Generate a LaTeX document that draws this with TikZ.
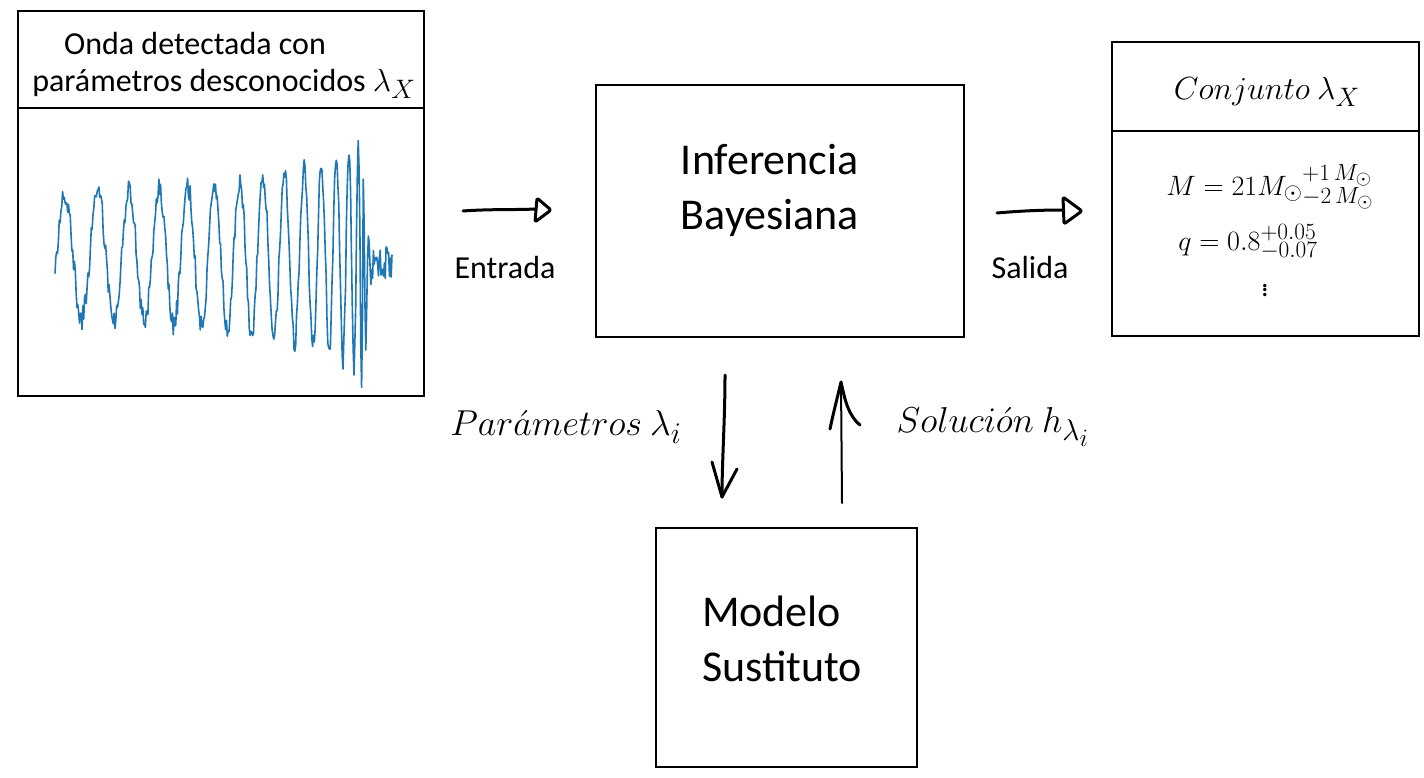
\documentclass[tikz,border=0pt]{standalone}
\usepackage{graphicx}
\usepackage{fontspec}
\setmainfont{Carlito}
\usetikzlibrary{arrows.meta}
\definecolor{wavecol}{HTML}{1F77B4}
\newcommand{\mscale}[2]{\scalebox{#1}{\fontsize{24.88}{30}\selectfont$#2$}}
\begin{document}
\begin{tikzpicture}[x=1pt,y=-1pt,
  box/.style={draw=black, line width=2pt, inner sep=0pt},
  lbl/.style={font=\fontsize{32}{38}\selectfont, inner sep=0pt},
  big/.style={font=\fontsize{44}{55}\selectfont, align=left, inner sep=0pt},
  mnode/.style={inner sep=0pt},
  hand/.style={line width=3pt, line cap=round, line join=round},
  wave/.style={draw=wavecol, line width=1.6pt, line join=round}]
\useasboundingbox (0,0) rectangle (1424,778);

% left box
\node[box, minimum width=406pt, minimum height=97pt] (wavehead) at (221,59.5) {};
\node[box, minimum width=406pt, minimum height=288pt] (wavebody) at (221,252) {};
\node[lbl] (t1) at (195,44) {Onda detectada con};
\node[lbl] (t2) at (224,84) {parámetros desconocidos \mscale{1.286}{\lambda_X}};

% waveform
\pgfmathsetseed{7}
\draw[wave] plot[domain=55:392, samples=400]
  (\x, {256 + 9*(\x>364)
    - 63*(300/(max(364-\x,0)+20))^0.25*exp(-max(\x-364,0)/3)
      *sin(deg(2.53*max(364-\x,0.001)^0.625 + 0.296 - 1.0*max(\x-364,0)))
    + (11 + 8*(\x>364))*rand});

% center box
\node[box, minimum width=368pt, minimum height=252pt] (bayes) at (780,211) {};
\node[big] (bayestxt) at (770,190) {Inferencia\\Bayesiana};

% bottom box
\node[box, minimum width=261pt, minimum height=239pt] (model) at (786.5,647.5) {};
\node[big] (modeltxt) at (782,639) {Modelo\\Sustituto};

% right box
\node[box, minimum width=307pt, minimum height=89pt] (sethead) at (1265.5,86.5) {};
\node[box, minimum width=307pt, minimum height=205pt] (setbody) at (1265.5,233.5) {};
\node[mnode] (settitle) at (1267,92) {\mscale{1.286}{Conjunto\ \lambda_X}};
\node[mnode] (mline) at (1270,187)
  {\mscale{1.125}{M = 21M_{\odot}{}^{+1\,M_{\odot}}_{-2\,M_{\odot}}}};
\node[mnode] (qline) at (1248,242)
  {\mscale{1.125}{q = 0.8^{+0.05}_{-0.07}}};
\node[mnode] (dots) at (1265,287) {\mscale{1.125}{\vdots}};

% arrows (hand-drawn style)
\coordinate (ein) at (463,211);
\coordinate (eback) at (536,209);
\coordinate (etip) at (551,210);
\coordinate (sin) at (997,213);
\coordinate (sback) at (1063,210);
\coordinate (stip) at (1082,211);
\coordinate (din) at (725,375);
\coordinate (dout) at (722,497);
\coordinate (uin) at (842,503);
\coordinate (uout) at (841,382);

\draw[hand] (ein) .. controls (490,209) and (515,210) .. (eback);
\draw[hand, rounded corners=2pt] (537,198) -- (etip) -- (535,222) -- cycle;
\draw[hand] (sin) .. controls (1020,211) and (1040,210) .. (sback);
\draw[hand, rounded corners=2pt] (1063,197) -- (stip) -- (1064,224) -- cycle;
\draw[hand] (din) .. controls (725,420) and (722,460) .. (dout);
\draw[hand] (712,462) -- (dout) -- (737,469);
\draw[line width=2pt, line cap=round] (uin) -- (uout);
\draw[hand] (830,429) .. controls (834,410) and (838,395) .. (uout)
  .. controls (845,400) and (848,415) .. (860,425);

% labels
\node[lbl] (entrada) at (505,268) {Entrada};
\node[lbl] (salida) at (1030,268) {Salida};
\node[mnode] (params) at (566,427) {\mscale{1.447}{Par\acute{a}metros\ \lambda_i}};
\node[mnode] (sol) at (993,427) {\mscale{1.447}{Soluci\acute{o}n\ h_{\lambda_i}}};
\end{tikzpicture}
\end{document}
